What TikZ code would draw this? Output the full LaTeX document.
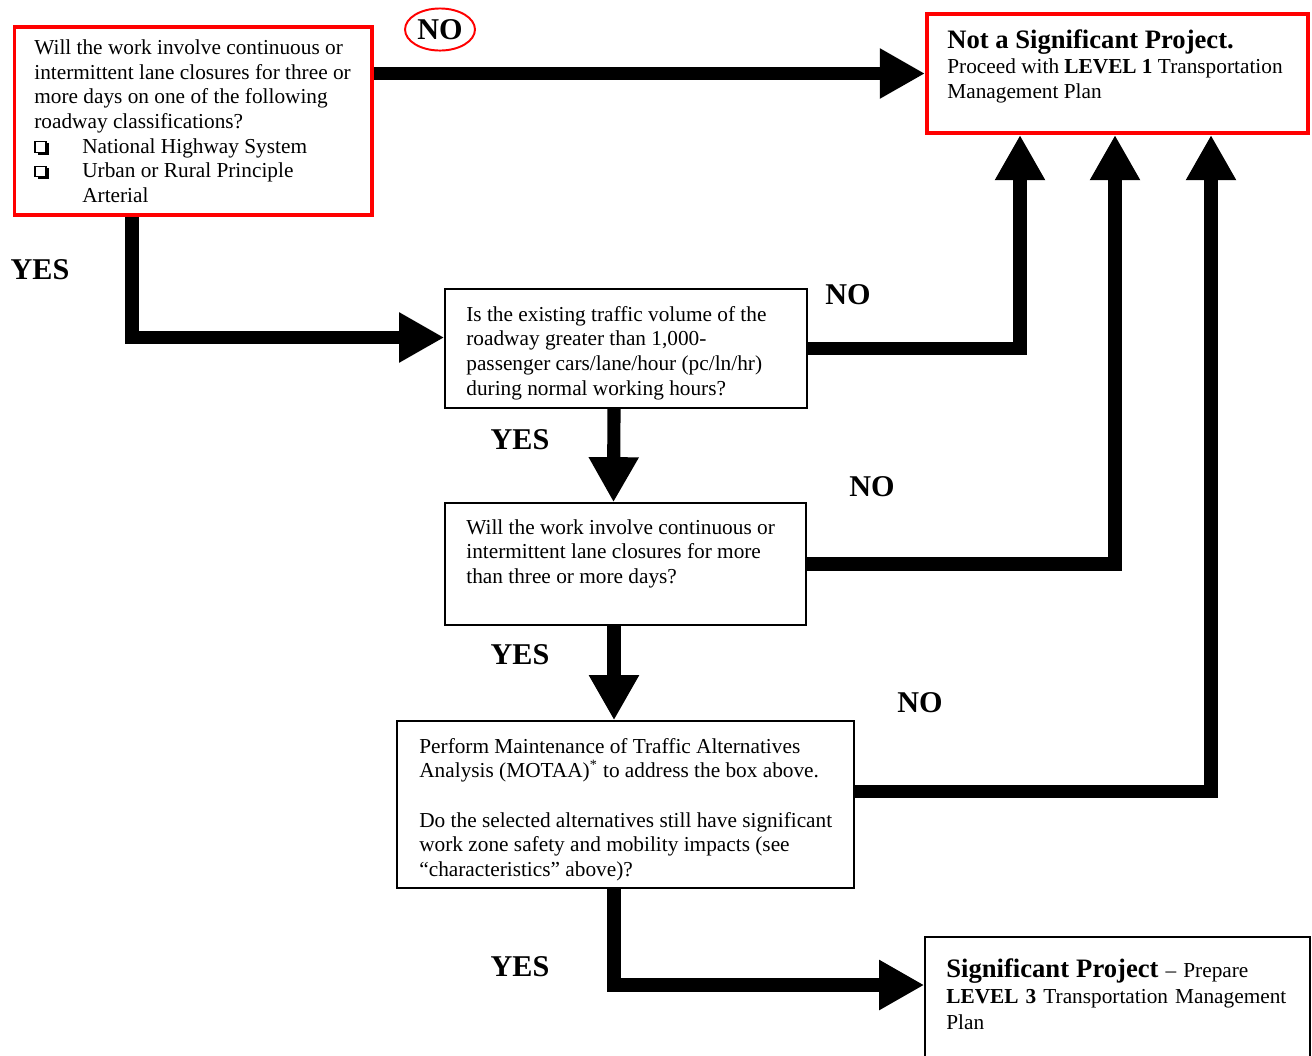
\documentclass[tikz,border=0pt]{standalone}
\usepackage{fontspec}
\setmainfont{Liberation Serif}
\usetikzlibrary{arrows.meta,calc,fit,shapes.geometric,backgrounds}
\newcommand{\tsp}{\spaceskip=0.25em\relax}
\newcommand{\headfont}{\fontsize{15}{17}\selectfont\bfseries}
\begin{document}
\begin{tikzpicture}[x=0.5634pt,y=-0.5634pt,
  redbox/.style={draw=red, line width=2.25pt, inner sep=0pt},
  blkbox/.style={draw=black, line width=0.85pt, inner sep=0pt},
  txt/.style={anchor=base west, inner sep=0pt, align=left, text width=260pt, font=\fontsize{12}{13.9}\selectfont},
  lab/.style={font=\fontsize{17}{20}\selectfont\bfseries, inner sep=0pt},
  flow/.style={line width=7.4pt, -{Triangle[length=25.4pt,width=26.5pt]}},
  chkbox/.style={draw=black, line width=0.6pt, inner sep=0pt, minimum width=6.2pt, minimum height=5.8pt},
]
\useasboundingbox (0,0) rectangle (1312,1055);
\clip (0,0) rectangle (1312,1055);

% boxes
\node[redbox, fit={(14.5,26.5) (372,214.5)}] (b1) {};
\node[redbox, fit={(927,14) (1308,133)}] (nsig) {};
\node[blkbox, fit={(445,289) (807,408)}] (b2) {};
\node[blkbox, fit={(445,503) (806,625)}] (b3) {};
\node[blkbox, fit={(397,721) (854,888)}] (b4) {};
\node[blkbox, fit={(925,937) (1310,1070)}] (b5) {};

% checkboxes (shadowed squares)
\foreach \n/\yy in {1/147, 2/171.5} {
  \fill[black] (38,\yy-4) rectangle (49,\yy+7.5);
  \node[chkbox, fill=white] (chk\n) at (40.5,\yy) {};
}

% texts
\node[txt] (t1) at (34,54.5) {\tsp Will the work involve continuous or\\
intermittent lane closures for three or\\
more days on one of the following\\
roadway classifications?\\
\hspace*{27pt}National Highway System\\
\hspace*{27pt}Urban or Rural Principle\\
\hspace*{27pt}Arterial};

\node[txt, font=\fontsize{12}{14.1}\selectfont] (tn) at (947,48) {{\headfont\tsp Not a Significant Project.}\\
\tsp Proceed with \textbf{LEVEL 1} Transportation\\
Management Plan};

\node[txt] (t2) at (466,321) {\tsp Is the existing traffic volume of the\\
roadway greater than 1,000-\\
passenger cars/lane/hour (pc/ln/hr)\\
during normal working hours?};

\node[txt] (t3) at (466,534) {\tsp Will the work involve continuous or\\
intermittent lane closures for more\\
than three or more days?};

\node[txt] (t4) at (419,753) {\tsp Perform Maintenance of Traffic Alternatives\\
Analysis (MOTAA)\textsuperscript{*} to address the box above.\\[13.9pt]
Do the selected alternatives still have significant\\
work zone safety and mobility impacts (see\\
``characteristics'' above)?};

\node[txt, font=\fontsize{12}{14.65}\selectfont] (t5) at (946,977) {{\headfont Significant Project} -- Prepare\\
\textbf{LEVEL 3} Transportation Management\\
Plan};

% labels
\node[lab, ellipse, draw=red, line width=1.1pt, minimum width=39.4pt, minimum height=23.7pt] (no0) at (440,29.5) {NO};
\node[lab] (yes1) at (40,270) {YES};
\node[lab] (no1) at (848,295) {NO};
\node[lab] (yes2) at (520,440) {YES};
\node[lab] (no2) at (872,487) {NO};
\node[lab] (yes3) at (520,655) {YES};
\node[lab] (no3) at (920,703) {NO};
\node[lab] (yes4) at (520,967) {YES};

% connectors
\begin{scope}[on background layer]
\draw[flow] (b1.east |- nsig.west) -- (nsig.west);
\draw[flow] ($(b1.south west)+(119.5,0)$) |- ($(b2.west)+(0,-11)$);
\draw[flow] (b2.east) -| ($(nsig.south west)+(95,0)$);
\draw[flow] ($(b2.south)+(-12,0)$) -- ($(b3.north)+(-12,0)$);
\draw[flow] (b3.east) -| ($(nsig.south west)+(190,0)$);
\draw[flow] ($(b3.south)+(-11.5,0)$) -- ($(b4.north)+(-11.5,0)$);
\draw[flow] ($(b4.east)+(0,-13)$) -| ($(nsig.south west)+(286,0)$);
\draw[flow] ($(b4.south)+(-11.5,0)$) |- ($(b5.west)+(0,-18.5)$);
\end{scope}
\end{tikzpicture}
\end{document}
